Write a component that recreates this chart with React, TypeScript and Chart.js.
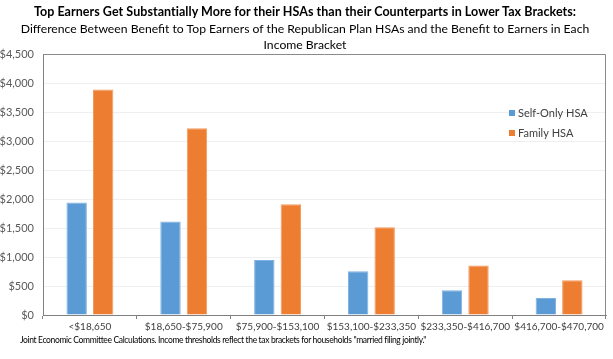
import React, { useEffect, useRef } from "react";
import { Chart, registerables } from "chart.js";

Chart.register(...registerables);

const categories = ["<$18,650", "$18,650-$75,900", "$75,900-$153,100", "$153,100-$233,350", "$233,350-$416,700", "$416,700-$470,700"];
const selfOnly = [1940, 1610, 950, 755, 425, 295];
const family = [3890, 3220, 1910, 1515, 855, 600];
const seriesNames = ["Self-Only HSA", "Family HSA"];
const yMax = 4500;
const yStep = 500;

const FONT = "Lato, 'Open Sans', sans-serif";

const frameAndLegend = {
  id: "frameAndLegend",
  afterDatasetsDraw(chart: any) {
    const { ctx, chartArea } = chart;
    ctx.save();
    ctx.strokeStyle = "#8a8a8a";
    ctx.lineWidth = 1;
    ctx.beginPath();
    ctx.moveTo(chartArea.left, chartArea.top + 0.5);
    ctx.lineTo(chartArea.right - 0.5, chartArea.top + 0.5);
    ctx.lineTo(chartArea.right - 0.5, chartArea.bottom);
    ctx.stroke();
    // legend
    const x = 509;
    const ys = [113, 133];
    ctx.font = `11px ${FONT}`;
    ctx.textBaseline = "middle";
    ctx.textAlign = "left";
    chart.data.datasets.forEach((ds: any, i: number) => {
      ctx.fillStyle = ds.backgroundColor;
      ctx.fillRect(x, ys[i] - 3, 6, 6);
      ctx.fillStyle = "#404040";
      ctx.fillText(ds.label, x + 9, ys[i]);
    });
    ctx.restore();
  },
};

export default function App() {
  const ref = useRef<HTMLCanvasElement>(null);
  useEffect(() => {
    if (!ref.current) return;
    const chart = new Chart(ref.current, {
      type: "bar",
      data: {
        labels: categories,
        datasets: [
          { label: seriesNames[0], data: selfOnly, backgroundColor: "#5B9BD5", borderColor: "#7fb2e0", borderWidth: 1 },
          { label: seriesNames[1], data: family, backgroundColor: "#ED7D31", borderColor: "#f29a5e", borderWidth: 1 },
        ],
      },
      options: {
        animation: false,
        responsive: false,
        maintainAspectRatio: false,
        layout: { padding: { top: 54, right: 7, bottom: 24, left: 0 } },
        datasets: { bar: { categoryPercentage: 0.565, barPercentage: 0.77 } },
        plugins: { legend: { display: false }, title: { display: false }, tooltip: { enabled: false } },
        scales: {
          x: {
            afterFit: (s: any) => { s.height = 20; },
            border: { color: "#808080", width: 1 },
            grid: { offset: true, drawOnChartArea: false, drawTicks: true, tickLength: 4, color: "#808080" },
            ticks: { color: "#404040", font: { family: FONT, size: 10 }, maxRotation: 0, autoSkip: false, padding: 2 },
          },
          y: {
            min: 0,
            max: yMax,
            afterFit: (s: any) => { s.width = 43; },
            border: { color: "#808080", width: 1 },
            grid: { color: "#efefef", drawTicks: false },
            ticks: {
              stepSize: yStep,
              color: "#595959",
              padding: 9,
              font: { family: FONT, size: 11 },
              callback: (v: any) => "$" + Number(v).toLocaleString("en-US"),
            },
          },
        },
      },
      plugins: [frameAndLegend],
    });
    return () => chart.destroy();
  }, []);

  return (
    <div style={{ position: "fixed", left: 0, top: 0, width: 613, height: 359, background: "#fff", fontFamily: FONT }}>
      <canvas ref={ref} width={613} height={359} style={{ position: "absolute", left: 0, top: 0 }} />
      <div style={{ position: "absolute", left: 0, width: 610, top: 3, textAlign: "center", color: "#000", whiteSpace: "nowrap" }}>
        <div style={{ fontWeight: 700, fontSize: 12.5, lineHeight: "18px", letterSpacing: "0.05px" }}>
          Top Earners Get Substantially More for their HSAs than their Counterparts in Lower Tax Brackets:
        </div>
        <div style={{ fontSize: 12.2, lineHeight: "16px" }}>
          Difference Between Benefit to Top Earners of the Republican Plan HSAs and the Benefit to Earners in Each
        </div>
        <div style={{ fontSize: 12.2, lineHeight: "16px" }}>Income Bracket</div>
      </div>
      <div style={{ position: "absolute", left: 20, top: 335, fontSize: 8.5, letterSpacing: "-0.35px", color: "#000", whiteSpace: "nowrap" }}>
        Joint Economic Committee Calculations. Income thresholds reflect the tax brackets for households "married filing jointly."
      </div>
    </div>
  );
}
